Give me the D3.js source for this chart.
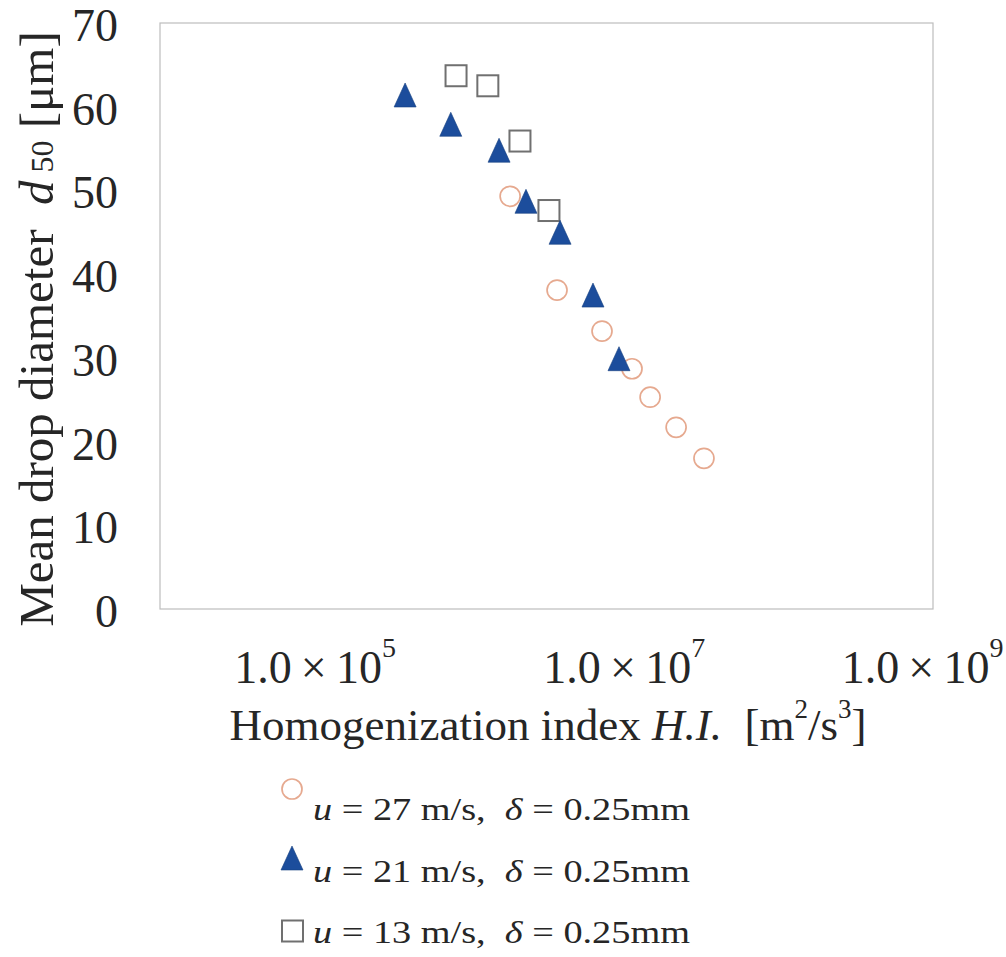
<!DOCTYPE html>
<html>
<head>
<meta charset="utf-8">
<script src="https://cdn.jsdelivr.net/npm/d3@7"></script>
<style>
  html, body { margin: 0; padding: 0; background: #fff; }
  svg { display: block; }
  text { font-family: "Liberation Serif", "Times New Roman", serif; fill: #262626; }
</style>
</head>
<body>
<svg id="chart" width="1006" height="957"></svg>
<script>
// ---- Data ----
const circleX   = [1.84e6, 3.70e6, 7.23e6, 1.13e7, 1.48e7, 2.18e7, 3.30e7];
const circleY   = [49.3, 38.1, 33.2, 28.7, 25.3, 21.7, 18.0];
const triangleX = [3.85e5, 7.6e5, 1.56e6, 2.33e6, 3.87e6, 6.32e6, 9.31e6];
const triangleY = [61.4, 57.9, 54.8, 48.7, 45.0, 37.5, 29.9];
const squareX   = [8.22e5, 1.32e6, 2.13e6, 3.28e6];
const squareY   = [63.7, 62.5, 55.9, 47.6];

const xTickValues = [1e5, 1e7, 1e9];
const xTickExponents = ["5", "7", "9"];
const yTickValues = [0, 10, 20, 30, 40, 50, 60, 70];
const legendSpeeds = ["27", "21", "13"];

// ---- Layout ----
const svg = d3.select("#chart");
const W = 1006;
const pLeft = 160, pRight = 933, pTop = 23, pBottom = 609;

const x = d3.scaleLog().domain([1e4, 1e9]).range([pLeft, pRight]);
const y = d3.scaleLinear().domain([0, 70]).range([pBottom, pTop]);

// Plot frame
svg.append("rect")
  .attr("x", pLeft).attr("y", pTop)
  .attr("width", pRight - pLeft).attr("height", pBottom - pTop)
  .attr("fill", "#fff").attr("stroke", "#bdbdbd").attr("stroke-width", 1.2);

// Y axis
const yAxis = svg.append("g")
  .attr("transform", `translate(${pLeft},0)`)
  .call(d3.axisLeft(y).tickValues(yTickValues).tickSize(0).tickPadding(42).tickFormat(d3.format("d")));
yAxis.select(".domain").remove();
yAxis.selectAll("text")
  .attr("font-size", 46)
  .attr("font-family", "Liberation Serif")
  .attr("fill", "#262626")
  .attr("dy", "0.38em");

// X axis
const xAxis = svg.append("g")
  .attr("transform", `translate(0,${pBottom})`)
  .call(d3.axisBottom(x).tickValues(xTickValues).tickSize(0).tickFormat(() => ""));
xAxis.select(".domain").remove();
xAxis.selectAll(".tick text").each(function(d, i) {
  const t = d3.select(this)
    .attr("font-size", 46)
    .attr("font-family", "Liberation Serif")
    .attr("fill", "#262626")
    .attr("text-anchor", "middle")
    .attr("y", 74)
    .attr("dy", 0);
  t.text(null);
  t.append("tspan").text("1.0\u2009\u00d7\u200910");
  t.append("tspan").attr("font-size", 28).attr("dy", -26).text(xTickExponents[i]);
  // keep the label inside the picture
  const b = this.getBBox();
  const absRight = x(d) + b.x + b.width;
  if (absRight > W - 3) t.attr("x", (W - 3) - absRight);
});

// X title
const xt = svg.append("text")
  .attr("x", 548).attr("y", 740)
  .attr("text-anchor", "middle")
  .attr("font-size", 45);
xt.append("tspan").text("Homogenization index ");
xt.append("tspan").attr("font-style", "italic").text("H.I.");
xt.append("tspan").text("\u00a0\u00a0[m");
xt.append("tspan").attr("font-size", 27).attr("dy", -22).text("2");
xt.append("tspan").attr("dy", 22).text("/s");
xt.append("tspan").attr("font-size", 27).attr("dy", -22).text("3");
xt.append("tspan").attr("dy", 22).text("]");

// Y title
const yt = svg.append("text")
  .attr("transform", "translate(53,329) rotate(-90)")
  .attr("text-anchor", "middle")
  .attr("font-size", 49);
yt.append("tspan").text("Mean drop diameter\u00a0\u00a0");
yt.append("tspan").attr("font-style", "italic").text("d");
yt.append("tspan").attr("font-size", 32).text("\u00a050");
yt.append("tspan").text(" [\u03bcm]");

// Markers
const circleColor = "#e6a98f";
const triColor = "#1c4d9c";
const squareColor = "#707070";
const triPath = "M0,-12L11,12L-11,12Z";

svg.append("g").selectAll("circle")
  .data(d3.zip(circleX, circleY))
  .join("circle")
  .attr("cx", d => x(d[0])).attr("cy", d => y(d[1]))
  .attr("r", 10)
  .attr("fill", "none").attr("stroke", circleColor).attr("stroke-width", 1.7);

svg.append("g").selectAll("rect")
  .data(d3.zip(squareX, squareY))
  .join("rect")
  .attr("x", d => x(d[0]) - 10.5).attr("y", d => y(d[1]) - 10.5)
  .attr("width", 21).attr("height", 21)
  .attr("fill", "none").attr("stroke", squareColor).attr("stroke-width", 2);

svg.append("g").selectAll("path")
  .data(d3.zip(triangleX, triangleY))
  .join("path")
  .attr("transform", d => `translate(${x(d[0])},${y(d[1])})`)
  .attr("d", triPath)
  .attr("fill", triColor).attr("stroke", "#15407f").attr("stroke-width", 0.6);

// Legend
const legend = svg.append("g");
const legendRows = [
  { markerY: 789, textY: 820 },
  { markerY: 858, textY: 882 },
  { markerY: 931, textY: 943 }
];
legendRows.forEach((r, i) => {
  if (i === 0) {
    legend.append("circle").attr("cx", 292).attr("cy", r.markerY).attr("r", 10)
      .attr("fill", "none").attr("stroke", circleColor).attr("stroke-width", 1.7);
  } else if (i === 1) {
    legend.append("path").attr("transform", `translate(292,${r.markerY})`).attr("d", triPath)
      .attr("fill", triColor).attr("stroke", "#15407f").attr("stroke-width", 0.6);
  } else {
    legend.append("rect").attr("x", 282).attr("y", r.markerY - 10.5).attr("width", 21).attr("height", 21)
      .attr("fill", "none").attr("stroke", squareColor).attr("stroke-width", 2);
  }
  const t = legend.append("text").attr("x", 313).attr("y", r.textY).attr("font-size", 31)
    .attr("textLength", 377).attr("lengthAdjust", "spacingAndGlyphs");
  t.append("tspan").attr("font-style", "italic").text("u");
  t.append("tspan").text(` = ${legendSpeeds[i]} m/s,\u00a0\u00a0`);
  t.append("tspan").attr("font-style", "italic").text("\u03b4");
  t.append("tspan").text(" = 0.25mm");
});
</script>
</body>
</html>
